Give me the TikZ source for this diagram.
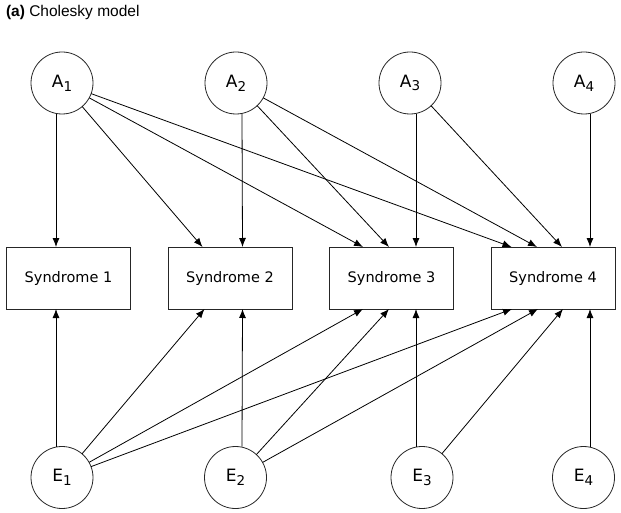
\documentclass[tikz,border=0pt]{standalone}
\usepackage{fontspec}
\setmainfont{DejaVu Sans}
\newfontfamily\titlefont{Liberation Sans}
\usetikzlibrary{arrows.meta, positioning}

\newcommand{\sub}[1]{\raisebox{-0.22em}{\fontsize{13.5}{14}\selectfont #1}}

\begin{document}
\begin{tikzpicture}[x=1pt, y=-1pt, font=\fontsize{14.5}{17}\selectfont]
\tikzset{every node/.style={inner sep=0pt, outer sep=0pt}}

\tikzstyle{factor}=[circle, draw=black!85, line width=0.8pt, minimum size=62pt, font=\fontsize{17}{20}\selectfont]
\tikzstyle{syndrome}=[rectangle, draw=black!85, line width=0.9pt, minimum width=124pt, minimum height=62pt]
\tikzstyle{post}=[->, line width=0.8pt, >={Latex[length=9pt,width=7pt]}]

\useasboundingbox (0,0) rectangle (621,513);

\node[anchor=base west, font=\titlefont\fontsize{15.5}{18}\selectfont] (title) at (6,16.5) {\textbf{(a)} Cholesky model};

% genetic factors
\node[factor] (A1) at (62,83) {A\sub{1}};
\node[factor, right=112pt of A1] (A2) {A\sub{2}};
\node[factor, right=112pt of A2] (A3) {A\sub{3}};
\node[factor, right=112pt of A3] (A4) {A\sub{4}};

% syndromes
\node[syndrome] (S1) at (68.5,278) {Syndrome 1};
\node[syndrome, right=37.5pt of S1] (S2) {Syndrome 2};
\node[syndrome, right=37.5pt of S2] (S3) {Syndrome 3};
\node[syndrome, right=37.5pt of S3] (S4) {Syndrome 4};

% environmental factors
\node[factor] (E1) at (62,477.5) {E\sub{1}};
\node[factor] (E2) at (235.5,477.5) {E\sub{2}};
\node[factor] (E3) at (422,477.5) {E\sub{3}};
\node[factor] (E4) at (583.5,477.5) {E\sub{4}};

\path[post] ([xshift=-6]A1.south) edge ([xshift=-12.5]S1.north)
    (A1) edge ([xshift=-27.5]S2.north)
    (A1) edge ([xshift=-28.5]S3.north)
    (A1) edge ([xshift=-41.5]S4.north);
\path[post] ([xshift=6]A2.south) edge ([xshift=12.5]S2.north)
    (A2) edge ([xshift=-2.5]S3.north)
    (A2) edge ([xshift=-16]S4.north);
\path[post] ([xshift=6]A3.south) edge ([xshift=24.5]S3.north)
    (A3) edge ([xshift=9]S4.north);
\path[post] ([xshift=6]A4.south) edge ([xshift=37]S4.north);

\path[post] ([xshift=-6]E1.north) edge ([xshift=-12.5]S1.south)
    (E1) edge ([xshift=-25.5]S2.south)
    (E1) edge ([xshift=-28.5]S3.south)
    (E1) edge ([xshift=-41]S4.south);
\path[post] ([xshift=6.5]E2.north) edge ([xshift=12.5]S2.south)
    (E2) edge ([xshift=-2.5]S3.south)
    (E2) edge ([xshift=-15]S4.south);
\path[post] ([xshift=-6]E3.north) edge ([xshift=24.5]S3.south)
    (E3) edge ([xshift=10]S4.south);
\path[post] ([xshift=6.5]E4.north) edge ([xshift=37]S4.south);

\end{tikzpicture}
\end{document}
